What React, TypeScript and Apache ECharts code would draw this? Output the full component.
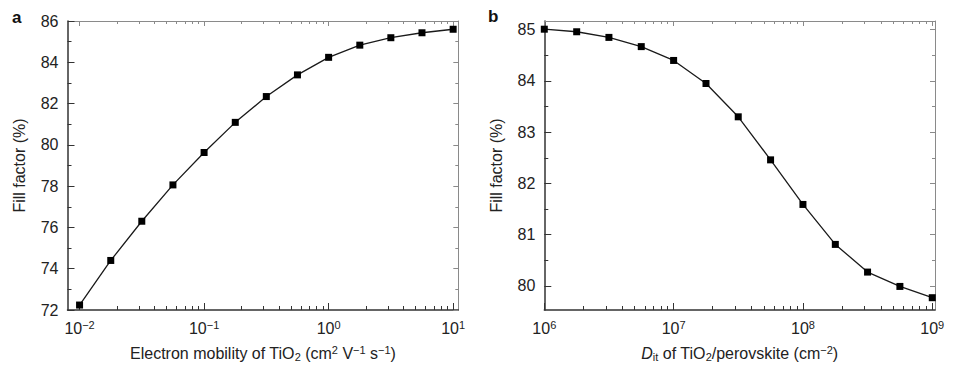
import React, { useEffect, useRef } from "react";
import * as echarts from "echarts";

// Panel a: electron mobility of TiO2 (cm2 V-1 s-1) vs fill factor (%)
const mobilityValues = [0.01, 0.0178, 0.0316, 0.0562, 0.1, 0.178, 0.316, 0.562, 1, 1.78, 3.16, 5.62, 10];
const fillFactorA = [72.24, 74.4, 76.3, 78.06, 79.63, 81.09, 82.34, 83.39, 84.24, 84.83, 85.19, 85.43, 85.6];

// Panel b: Dit of TiO2/perovskite (cm-2) vs fill factor (%)
const ditValues = [1e6, 1.78e6, 3.16e6, 5.62e6, 1e7, 1.78e7, 3.16e7, 5.62e7, 1e8, 1.78e8, 3.16e8, 5.62e8, 1e9];
const fillFactorB = [85.01, 84.96, 84.85, 84.67, 84.4, 83.95, 83.3, 82.46, 81.59, 80.81, 80.27, 79.99, 79.77];

// Tick values
const xMajorA = [0.01, 0.1, 1, 10];
const xMinorA = [0.02, 0.03, 0.04, 0.05, 0.06, 0.07, 0.08, 0.09, 0.2, 0.3, 0.4, 0.5, 0.6, 0.7, 0.8, 0.9, 2, 3, 4, 5, 6, 7, 8, 9];
const yMajorA = [72, 74, 76, 78, 80, 82, 84, 86];
const yMinorA = [73, 75, 77, 79, 81, 83, 85];

const xMajorB = [1e6, 1e7, 1e8, 1e9];
const xMinorB = [2e6, 3e6, 4e6, 5e6, 6e6, 7e6, 8e6, 9e6, 2e7, 3e7, 4e7, 5e7, 6e7, 7e7, 8e7, 9e7, 2e8, 3e8, 4e8, 5e8, 6e8, 7e8, 8e8, 9e8];
const yMajorB = [80, 81, 82, 83, 84, 85];
const yMinorB = [80.5, 81.5, 82.5, 83.5, 84.5];

const FONT = "Liberation Sans, Arial, sans-serif";
const TEXT = "#222";
const DARK = "#333";
const LIGHT = "#8a8a8a";
const FS = 16;
const FS_SMALL = 11;

const expLabel = (v: number) => {
  const e = Math.round(Math.log10(v));
  const s = e < 0 ? "\u2212" + Math.abs(e) : String(e);
  return `{b|10}{s|${s}}`;
};

const labelRich = {
  b: { fontSize: FS, fontFamily: FONT, color: TEXT, lineHeight: 18, verticalAlign: "middle" },
  s: { fontSize: FS_SMALL, fontFamily: FONT, color: TEXT, lineHeight: 10, verticalAlign: "top" },
};

const nameRich = {
  sup: { fontSize: FS_SMALL, fontFamily: FONT, color: TEXT, lineHeight: 10, verticalAlign: "top" },
  sub: { fontSize: FS_SMALL, fontFamily: FONT, color: TEXT, lineHeight: 10, verticalAlign: "bottom" },
  it: { fontSize: FS, fontFamily: FONT, color: TEXT, fontStyle: "italic", lineHeight: 18 },
};

function mainX(grid: number, min: number, max: number, major: number[], name: string) {
  return [
    {
      gridIndex: grid,
      type: "log",
      logBase: 10,
      min,
      max,
      position: "bottom",
      axisLine: { show: true, onZero: false, lineStyle: { color: DARK, width: 1.5 } },
      axisTick: { show: true, inside: true, length: 7, customValues: major, lineStyle: { color: DARK, width: 1 } },
      axisLabel: { show: true, customValues: major, formatter: expLabel, rich: labelRich, margin: 9, color: TEXT },
      splitLine: { show: false },
      minorTick: { show: false },
      name,
      nameLocation: "middle",
      nameGap: 34,
      nameTextStyle: { fontSize: FS, fontFamily: FONT, color: TEXT, lineHeight: 18, rich: nameRich },
    },
    {
      gridIndex: grid,
      type: "log",
      logBase: 10,
      min,
      max,
      position: "top",
      axisLine: { show: true, onZero: false, lineStyle: { color: LIGHT, width: 1 } },
      axisTick: { show: true, inside: true, length: 5, customValues: major, lineStyle: { color: LIGHT, width: 1 } },
      axisLabel: { show: false },
      splitLine: { show: false },
    },
  ];
}

function minorX(grid: number, min: number, max: number, minor: number[]) {
  return [
    {
      gridIndex: grid,
      type: "log",
      logBase: 10,
      min,
      max,
      position: "bottom",
      axisLine: { show: false, onZero: false },
      axisTick: { show: true, inside: true, length: 4, customValues: minor, lineStyle: { color: DARK, width: 1 } },
      axisLabel: { show: false },
      splitLine: { show: false },
    },
    {
      gridIndex: grid,
      type: "log",
      logBase: 10,
      min,
      max,
      position: "top",
      axisLine: { show: false, onZero: false },
      axisTick: { show: true, inside: true, length: 3, customValues: minor, lineStyle: { color: LIGHT, width: 1 } },
      axisLabel: { show: false },
      splitLine: { show: false },
    },
  ];
}

function mainY(grid: number, min: number, max: number, major: number[]) {
  return [
    {
      gridIndex: grid,
      type: "value",
      min,
      max,
      position: "left",
      axisLine: { show: true, onZero: false, lineStyle: { color: DARK, width: 1.5 } },
      axisTick: { show: true, inside: true, length: 7, customValues: major, lineStyle: { color: DARK, width: 1 } },
      axisLabel: { show: true, customValues: major, margin: 9, fontSize: FS, fontFamily: FONT, color: TEXT },
      splitLine: { show: false },
      name: "Fill factor (%)",
      nameLocation: "middle",
      nameGap: 40,
      nameTextStyle: { fontSize: FS, fontFamily: FONT, color: TEXT },
    },
    {
      gridIndex: grid,
      type: "value",
      min,
      max,
      position: "right",
      axisLine: { show: true, onZero: false, lineStyle: { color: LIGHT, width: 1 } },
      axisTick: { show: true, inside: true, length: 5, customValues: major, lineStyle: { color: LIGHT, width: 1 } },
      axisLabel: { show: false },
      splitLine: { show: false },
    },
  ];
}

function minorY(grid: number, min: number, max: number, minor: number[]) {
  return [
    {
      gridIndex: grid,
      type: "value",
      min,
      max,
      position: "left",
      axisLine: { show: false, onZero: false },
      axisTick: { show: true, inside: true, length: 4, customValues: minor, lineStyle: { color: DARK, width: 1 } },
      axisLabel: { show: false },
      splitLine: { show: false },
    },
    {
      gridIndex: grid,
      type: "value",
      min,
      max,
      position: "right",
      axisLine: { show: false, onZero: false },
      axisTick: { show: true, inside: true, length: 3, customValues: minor, lineStyle: { color: LIGHT, width: 1 } },
      axisLabel: { show: false },
      splitLine: { show: false },
    },
  ];
}

export default function App() {
  const ref = useRef<HTMLDivElement>(null);

  useEffect(() => {
    if (!ref.current) return;
    const chart = echarts.init(ref.current, undefined, { renderer: "svg" });

    const gridA = { left: 67.5, right: 509.7, top: 21, bottom: 64, containLabel: false };
    const gridB = { left: 544.3, right: 33, top: 21, bottom: 64, containLabel: false };

    const xAMin = 0.008;
    const xAMax = 11;
    const xBMin = 1e6;
    const xBMax = 1.05e9;
    const yAMin = 72;
    const yAMax = 86;
    const yBMin = 79.53;
    const yBMax = 85.17;

    const option: any = {
      animation: false,
      textStyle: { fontFamily: FONT },
      grid: [gridA, { ...gridA }, gridB, { ...gridB }],
      xAxis: [
        ...mainX(0, xAMin, xAMax, xMajorA, "Electron mobility of TiO{sub|2} (cm{sup|2} V{sup|\u22121} s{sup|\u22121})"),
        ...minorX(1, xAMin, xAMax, xMinorA),
        ...mainX(2, xBMin, xBMax, xMajorB, "{it|D}{sub|it} of TiO{sub|2}/perovskite (cm{sup|\u22122})"),
        ...minorX(3, xBMin, xBMax, xMinorB),
      ],
      yAxis: [
        ...mainY(0, yAMin, yAMax, yMajorA),
        ...minorY(1, yAMin, yAMax, yMinorA),
        ...mainY(2, yBMin, yBMax, yMajorB),
        ...minorY(3, yBMin, yBMax, yMinorB),
      ],
      series: [
        {
          type: "line",
          xAxisIndex: 0,
          yAxisIndex: 0,
          data: mobilityValues.map((x, i) => [x, fillFactorA[i]]),
          symbol: "rect",
          symbolSize: 7,
          lineStyle: { color: "#1a1a1a", width: 1.3 },
          itemStyle: { color: "#000" },
          z: 5,
        },
        {
          type: "line",
          xAxisIndex: 4,
          yAxisIndex: 4,
          data: ditValues.map((x, i) => [x, fillFactorB[i]]),
          symbol: "rect",
          symbolSize: 7,
          lineStyle: { color: "#1a1a1a", width: 1.3 },
          itemStyle: { color: "#000" },
          z: 5,
        },
      ],
      graphic: [
        {
          type: "text",
          left: 12,
          top: 9,
          style: { text: "a", fontSize: 17, fontWeight: "bold", fontFamily: FONT, fill: "#111" },
        },
        {
          type: "text",
          left: 488,
          top: 8,
          style: { text: "b", fontSize: 17, fontWeight: "bold", fontFamily: FONT, fill: "#111" },
        },
      ],
    };

    chart.setOption(option);
    return () => chart.dispose();
  }, []);

  return (
    <div
      ref={ref}
      style={{ position: "absolute", left: 0, top: 0, width: 968, height: 374, background: "#fff" }}
    />
  );
}
